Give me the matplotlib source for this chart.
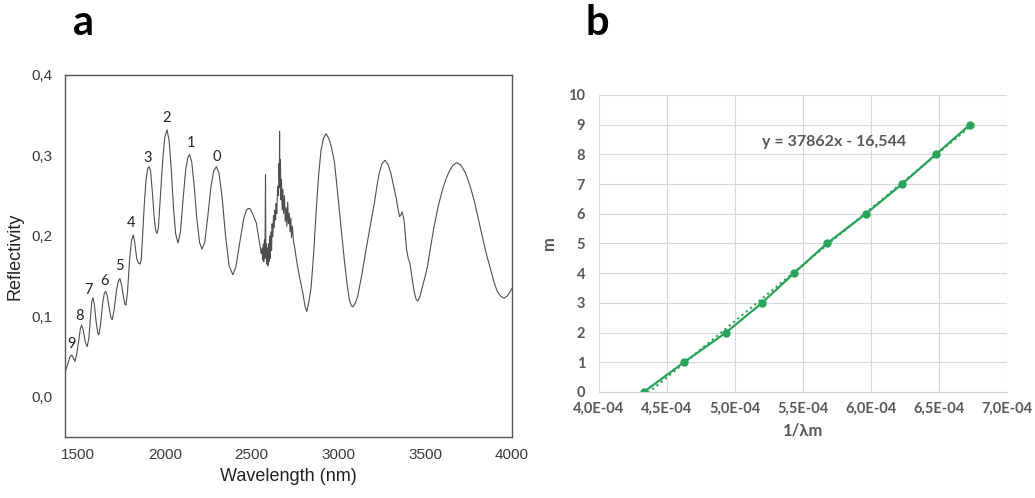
import numpy as np
import matplotlib
matplotlib.use("Agg")
import matplotlib.pyplot as plt
from matplotlib.ticker import FuncFormatter, MultipleLocator

plt.rcParams["font.family"] = ["Liberation Sans", "DejaVu Sans"]

# ---- panel a : reflectivity spectrum ----
wavelength = [
    1425, 1440, 1452, 1463, 1472, 1482, 1492, 1505, 1514, 1521, 1530, 1542, 1553,
    1562, 1572, 1579, 1586, 1594, 1605, 1614, 1620, 1630, 1643, 1652, 1660, 1668,
    1680, 1690, 1697, 1708, 1722, 1733, 1741, 1750, 1762, 1770, 1776, 1785, 1797,
    1808, 1818, 1826, 1838, 1848, 1858, 1864, 1872, 1882, 1892, 1902, 1910, 1918,
    1928, 1940, 1948, 1955, 1963, 1975, 1988, 2000, 2013, 2025, 2038, 2050, 2062,
    2076, 2090, 2105, 2120, 2133, 2143, 2155, 2170, 2185, 2200, 2214, 2230, 2248,
    2265, 2282, 2297, 2312, 2330, 2350, 2370, 2392, 2410, 2431, 2455, 2470, 2480,
    2490, 2505, 2527, 2546, 2555, 2560, 2563, 2567, 2570, 2574, 2577, 2580, 2582,
    2585, 2588, 2591, 2594, 2597, 2600, 2604, 2607, 2611, 2615, 2618, 2622, 2626,
    2630, 2634, 2638, 2641, 2645, 2650, 2655, 2658, 2660, 2661, 2663, 2666, 2669,
    2672, 2676, 2680, 2684, 2689, 2694, 2699, 2703, 2708, 2712, 2717, 2721, 2726,
    2730, 2735, 2741, 2744, 2747, 2760, 2776, 2795, 2808, 2818, 2830, 2843, 2858,
    2872, 2886, 2900, 2915, 2929, 2945, 2960, 2977, 2990, 3005, 3020, 3034, 3050,
    3063, 3075, 3085, 3098, 3111, 3135, 3159, 3183, 3207, 3222, 3235, 3252, 3268,
    3285, 3302, 3318, 3331, 3342, 3352, 3360, 3366, 3372, 3379, 3386, 3392, 3402,
    3412, 3424, 3436, 3448, 3458, 3470, 3484, 3500, 3513, 3530, 3551, 3575, 3599,
    3620, 3640, 3660, 3682, 3705, 3733, 3757, 3781, 3805, 3829, 3853, 3877, 3897,
    3915, 3935, 3954, 3972, 3990, 4000,
]
reflectivity = [
    0.030, 0.040, 0.049, 0.052, 0.049, 0.044, 0.052, 0.072, 0.085, 0.089, 0.083, 0.068, 0.0625,
    0.072, 0.100, 0.118, 0.123, 0.115, 0.092, 0.079, 0.077, 0.090, 0.118, 0.129, 0.131, 0.126,
    0.110, 0.098, 0.096, 0.108, 0.133, 0.144, 0.147, 0.140, 0.124, 0.115, 0.114, 0.130, 0.170,
    0.194, 0.201, 0.193, 0.172, 0.166, 0.165, 0.170, 0.200, 0.240, 0.270, 0.284, 0.286, 0.280,
    0.255, 0.220, 0.206, 0.203, 0.210, 0.250, 0.295, 0.323, 0.332, 0.318, 0.280, 0.235, 0.203,
    0.191, 0.205, 0.245, 0.282, 0.298, 0.301, 0.292, 0.260, 0.220, 0.192, 0.1835, 0.192, 0.225,
    0.260, 0.281, 0.286, 0.278, 0.248, 0.200, 0.163, 0.1516, 0.162, 0.191, 0.222, 0.232, 0.234,
    0.234, 0.228, 0.216, 0.191, 0.178, 0.185, 0.170, 0.190, 0.168, 0.195, 0.172, 0.276, 0.175,
    0.190, 0.165, 0.185, 0.163, 0.190, 0.168, 0.200, 0.172, 0.205, 0.182, 0.215, 0.199, 0.225,
    0.210, 0.232, 0.220, 0.240, 0.228, 0.262, 0.250, 0.290, 0.270, 0.330, 0.260, 0.295, 0.245,
    0.270, 0.232, 0.258, 0.228, 0.250, 0.218, 0.235, 0.212, 0.242, 0.215, 0.228, 0.205, 0.222,
    0.198, 0.212, 0.193, 0.190, 0.187, 0.168, 0.149, 0.129, 0.112, 0.106, 0.118, 0.137, 0.180,
    0.232, 0.275, 0.307, 0.322, 0.327, 0.321, 0.310, 0.292, 0.265, 0.232, 0.200, 0.170, 0.140,
    0.1205, 0.113, 0.112, 0.117, 0.1246, 0.152, 0.1826, 0.212, 0.2406, 0.262, 0.278, 0.290, 0.294,
    0.289, 0.278, 0.262, 0.249, 0.235, 0.224, 0.226, 0.230, 0.226, 0.218, 0.200, 0.184, 0.172,
    0.166, 0.148, 0.131, 0.121, 0.119, 0.125, 0.137, 0.150, 0.162, 0.185, 0.2116, 0.237, 0.257,
    0.271, 0.281, 0.288, 0.291, 0.288, 0.278, 0.263, 0.245, 0.222, 0.199, 0.177, 0.158, 0.142,
    0.131, 0.125, 0.1226, 0.125, 0.131, 0.135,
]

# fringe order labels
order_labels = ["9", "8", "7", "6", "5", "4", "3", "2", "1", "0"]
order_x = [1463, 1511, 1559, 1655, 1741, 1808, 1904, 2009, 2153, 2297]
order_y = [0.066, 0.100, 0.133, 0.144, 0.162, 0.216, 0.297, 0.347, 0.315, 0.2985]

# ---- panel b : order vs 1/lambda ----
inv_lambda = [4.33e-4, 4.625e-4, 4.934e-4, 5.199e-4, 5.434e-4,
              5.676e-4, 5.963e-4, 6.228e-4, 6.478e-4, 6.728e-4]
order_m = [0, 1, 2, 3, 4, 5, 6, 7, 8, 9]
slope = 37862
intercept = -16.544

green = "#29a25a"
grey_txt = "#595959"

fig = plt.figure(figsize=(10.35, 4.98), dpi=100)

# panel a
ax1 = fig.add_axes([0.0628, 0.1225, 0.4319, 0.7269])
ax1.plot(wavelength, reflectivity, color="#4f4f4f", lw=0.8)
ax1.set_xlim(1425, 4000)
ax1.set_ylim(-0.05, 0.4)
ax1.set_xticks([1500, 2000, 2500, 3000, 3500, 4000])
ax1.set_yticks([0.0, 0.1, 0.2, 0.3, 0.4])
ax1.yaxis.set_major_formatter(FuncFormatter(lambda v, p: f"{v:.1f}".replace(".", ",")))
ax1.tick_params(length=0, labelsize=11, labelcolor="#3a3a3a", pad=9)
ax1.tick_params(axis="x", pad=8)
for s in ax1.spines.values():
    s.set_color("#555555")
    s.set_linewidth(1.0)
ax1.set_ylabel("Reflectivity", fontsize=13, color="#222222", labelpad=6)
ax1.set_xlabel("Wavelength (nm)", fontsize=13, color="#222222", labelpad=4)
for lab, x, y in zip(order_labels, order_x, order_y):
    ax1.text(x, y, lab, fontsize=10.5, family="Lato", ha="center", va="center", color="#222222")

# panel b
ax2 = fig.add_axes([0.5787, 0.2129, 0.3942, 0.5964])
ax2.set_xlim(4.0e-4, 7.0e-4)
ax2.set_ylim(0, 10)
ax2.xaxis.set_major_locator(MultipleLocator(0.5e-4))
ax2.yaxis.set_major_locator(MultipleLocator(1))
ax2.xaxis.set_major_formatter(FuncFormatter(lambda v, p: f"{v:.1E}".replace(".", ",")))
ax2.grid(True, color="#d9d9d9", lw=0.8)
ax2.set_axisbelow(True)
for name, s in ax2.spines.items():
    s.set_visible(name == "bottom")
ax2.spines["bottom"].set_color("#d0d0d0")
ax2.tick_params(length=0, labelsize=10.5, labelcolor=grey_txt)
ax2.tick_params(axis="y", pad=10)
ax2.tick_params(axis="x", pad=7)
for lab in ax2.get_xticklabels() + ax2.get_yticklabels():
    lab.set_family("Lato")
    lab.set_fontweight("bold")
xfit = np.array([min(inv_lambda), max(inv_lambda)])
ax2.plot(xfit, slope * xfit + intercept, color=green, lw=1.5, ls=":")
ax2.plot(inv_lambda, order_m, color=green, lw=1.6, marker="o", ms=5)
ax2.text(5.2e-4, 8.42, "y = 37862x - 16,544", fontsize=11.5, family="Lato",
         fontweight="bold", color=grey_txt, va="center", ha="left")
ax2.set_ylabel("m", fontsize=12, family="Lato", fontweight="bold", color=grey_txt, labelpad=8)
ax2.set_xlabel("1/λm", fontsize=12, family="Lato", fontweight="bold", color=grey_txt, labelpad=5)

# panel letters
fig.text(83 / 1035, 1 - 35 / 498, "a", fontsize=30, family="Lato", fontweight="bold",
         ha="center", va="baseline")
fig.text(597 / 1035, 1 - 35 / 498, "b", fontsize=30, family="Lato", fontweight="bold",
         ha="center", va="baseline")

fig.savefig("out.png", dpi=100)
